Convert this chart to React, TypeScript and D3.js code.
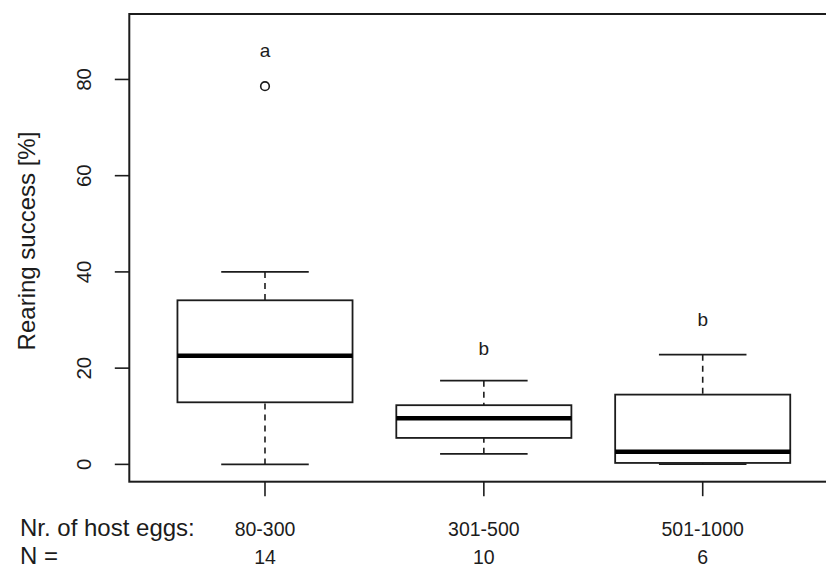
import React from "react";
import * as d3 from "d3";

// Rearing success per host-egg class, summarised as box-plot statistics
const groups = ["80-300", "301-500", "501-1000"];
const counts = [14, 10, 6];
const lowerWhisker = [0, 2.2, 0.05];
const q1 = [12.9, 5.5, 0.3];
const median = [22.6, 9.6, 2.6];
const q3 = [34.1, 12.3, 14.5];
const upperWhisker = [40, 17.4, 22.8];
const outliers = [[78.6], [], []];
const letters = ["a", "b", "b"];
const letterPos = [86, 24, 30];
const yTicks = [0, 20, 40, 60, 80];

const W = 826;
const H = 568;
const FONT = "'Liberation Sans', Arial, Helvetica, sans-serif";
const INK = "#1c1c1c";

export default function App() {
  // R-style ranges: ylim 0..90 and x 0.5..3.5, each padded by 4%
  const y = d3.scaleLinear().domain([-3.6, 93.6]).range([481.7, 14]);
  const x = d3.scaleLinear().domain([0.38, 3.62]).range([129.3, 838.4]);
  const unit = x(1) - x(0);
  const boxHalf = 0.4 * unit;
  const stapleHalf = 0.2 * unit;

  const left = x(0.38);
  const right = x(3.62);
  const top = y(93.6);
  const bottom = y(-3.6);

  return (
    <svg
      width={W}
      height={H}
      viewBox={`0 0 ${W} ${H}`}
      style={{ position: "fixed", left: 0, top: 0, background: "#fff" }}
      fontFamily={FONT}
    >
      <rect x={0} y={0} width={W} height={H} fill="#fff" />

      {/* plot frame */}
      <rect
        x={left}
        y={top}
        width={right - left}
        height={bottom - top}
        fill="none"
        stroke={INK}
        strokeWidth={2}
      />

      {/* y axis ticks and labels */}
      {yTicks.map((t) => (
        <g key={t}>
          <line x1={left} x2={left - 14.5} y1={y(t)} y2={y(t)} stroke={INK} strokeWidth={1.6} />
          <text
            transform={`translate(91,${y(t)}) rotate(-90)`}
            textAnchor="middle"
            fontSize={20.5}
            fill={INK}
          >
            {t}
          </text>
        </g>
      ))}
      <text
        transform={`translate(35,241) rotate(-90)`}
        textAnchor="middle"
        fontSize={24}
        fill={INK}
      >
        Rearing success [%]
      </text>

      {/* boxes */}
      {groups.map((g, i) => {
        const cx = x(i + 1);
        return (
          <g key={g}>
            <line
              x1={cx}
              x2={cx}
              y1={y(upperWhisker[i])}
              y2={y(q3[i])}
              stroke={INK}
              strokeWidth={1.6}
              strokeDasharray="6,5"
            />
            <line
              x1={cx}
              x2={cx}
              y1={y(lowerWhisker[i])}
              y2={y(q1[i])}
              stroke={INK}
              strokeWidth={1.6}
              strokeDasharray="6,5"
            />
            <line
              x1={cx - stapleHalf}
              x2={cx + stapleHalf}
              y1={y(upperWhisker[i])}
              y2={y(upperWhisker[i])}
              stroke={INK}
              strokeWidth={1.8}
            />
            <line
              x1={cx - stapleHalf}
              x2={cx + stapleHalf}
              y1={y(lowerWhisker[i])}
              y2={y(lowerWhisker[i])}
              stroke={INK}
              strokeWidth={1.8}
            />
            <rect
              x={cx - boxHalf}
              y={y(q3[i])}
              width={2 * boxHalf}
              height={y(q1[i]) - y(q3[i])}
              fill="#fff"
              stroke={INK}
              strokeWidth={1.8}
            />
            <line
              x1={cx - boxHalf}
              x2={cx + boxHalf}
              y1={y(median[i])}
              y2={y(median[i])}
              stroke="#000"
              strokeWidth={4.5}
            />
            {outliers[i].map((o, j) => (
              <circle key={j} cx={cx} cy={y(o)} r={4.3} fill="none" stroke={INK} strokeWidth={1.6} />
            ))}
            <text
              x={cx}
              y={y(letterPos[i]) + 6}
              textAnchor="middle"
              fontSize={19}
              fill={INK}
            >
              {letters[i]}
            </text>

            {/* x tick and labels */}
            <line x1={cx} x2={cx} y1={bottom} y2={bottom + 14.5} stroke={INK} strokeWidth={1.6} />
            <text x={cx} y={536} textAnchor="middle" fontSize={19.5} fill={INK}>
              {g}
            </text>
            <text x={cx} y={564} textAnchor="middle" fontSize={19.5} fill={INK}>
              {counts[i]}
            </text>
          </g>
        );
      })}

      <text x={20} y={536} fontSize={24} fill={INK}>
        Nr. of host eggs:
      </text>
      <text x={20} y={563.5} fontSize={24} fill={INK}>
        N =
      </text>
    </svg>
  );
}
